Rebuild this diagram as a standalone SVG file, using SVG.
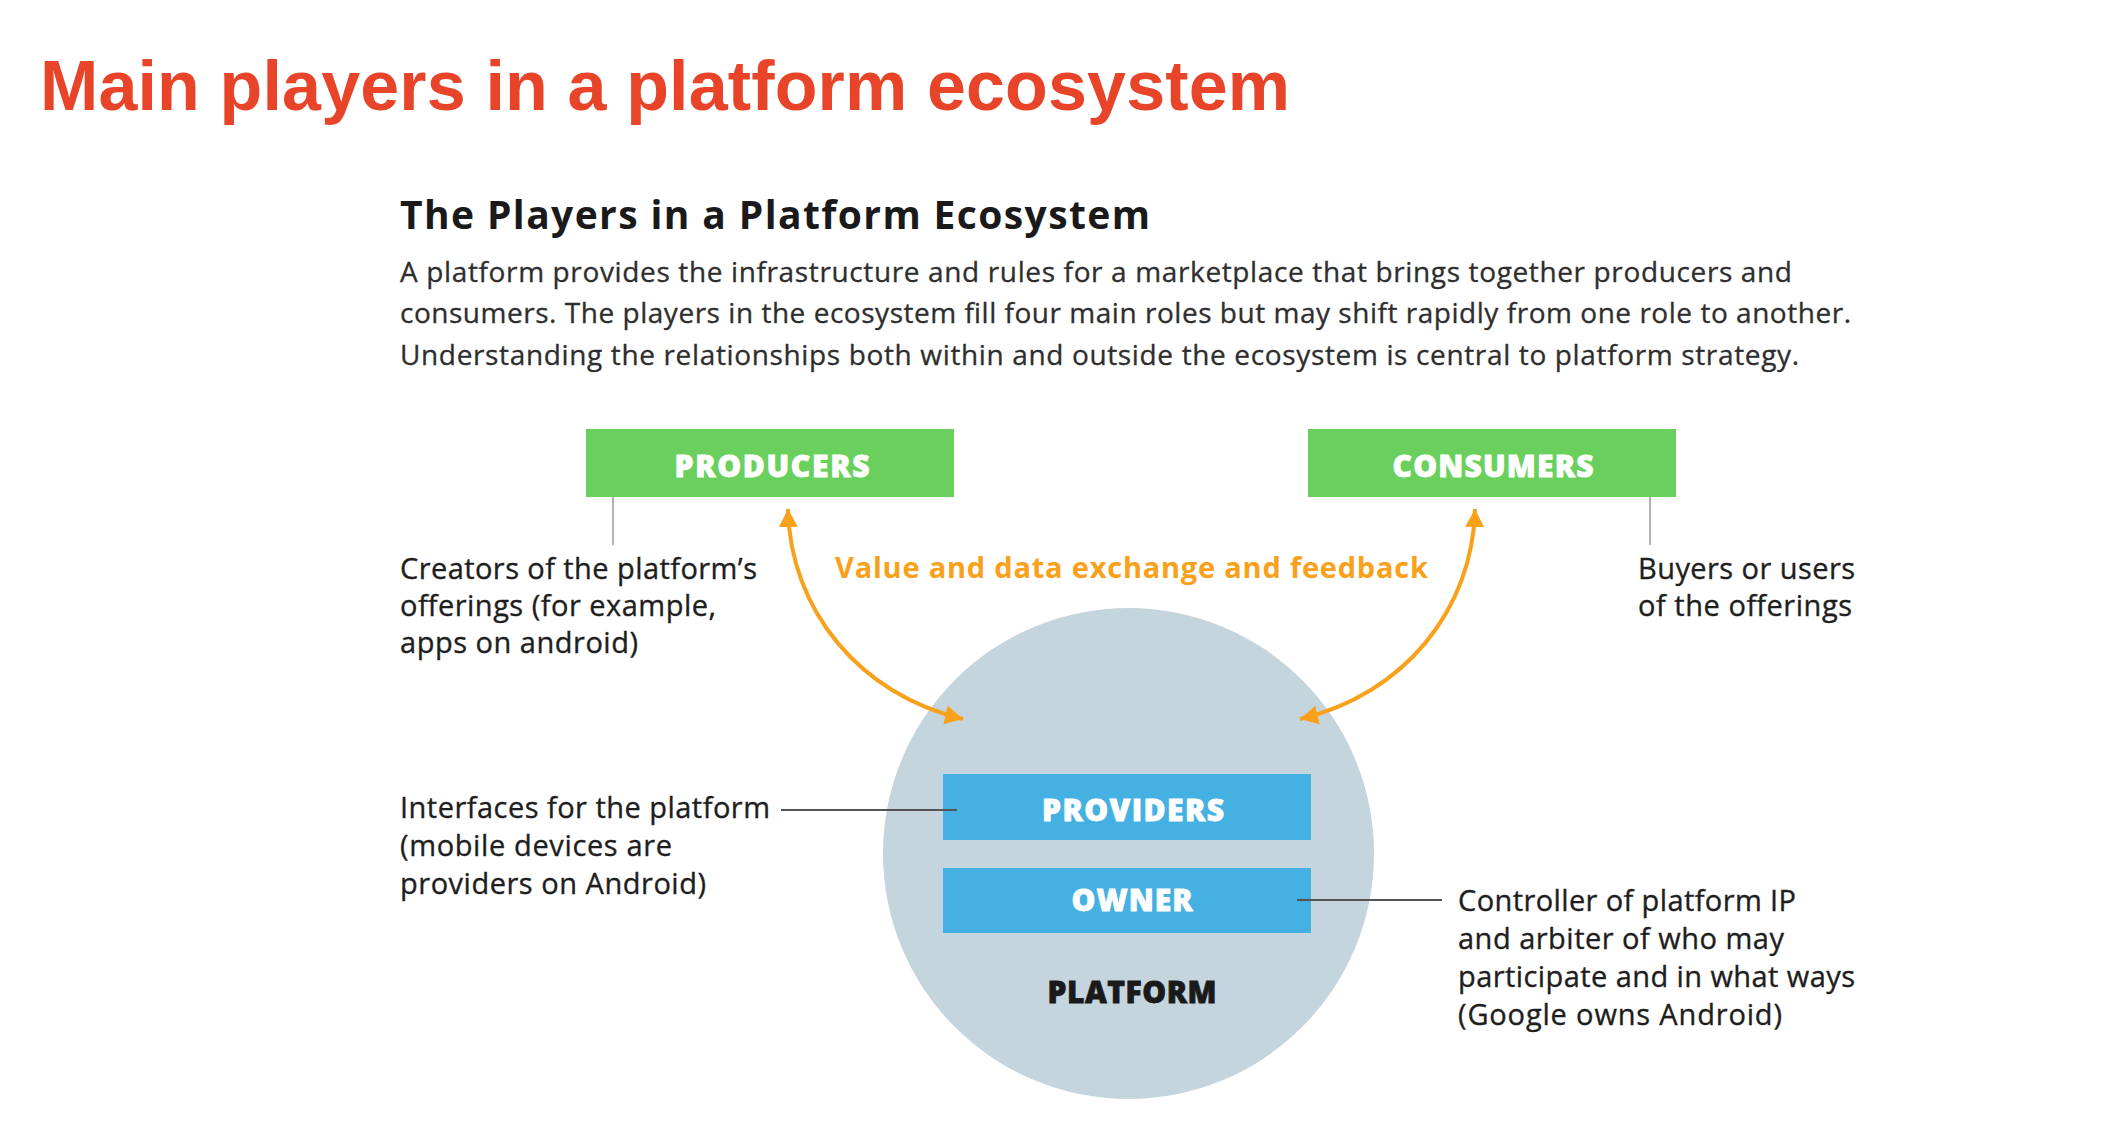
<svg xmlns="http://www.w3.org/2000/svg" width="2110" height="1133" viewBox="0 0 2110 1133">
  <style>
    .title { font-family: "Liberation Sans", Arial, sans-serif; font-weight: 700; font-size: 70px; fill: #E8442A; }
    .sub { font-family: "Open Sans", "Liberation Sans", sans-serif; font-weight: 700; font-size: 39px; fill: #1a1a1a; }
    .para { font-family: "Open Sans", "Liberation Sans", sans-serif; font-size: 28px; fill: #2e2e2e; stroke: #2e2e2e; stroke-width: 0.3; }
    .note { font-family: "Open Sans", "Liberation Sans", sans-serif; font-size: 29px; fill: #1e1e1e; stroke: #1e1e1e; stroke-width: 0.35; }
    .flow { font-family: "Open Sans", "Liberation Sans", sans-serif; font-weight: 700; font-size: 29px; fill: #F9A11B; }
    .lbl { font-family: "Open Sans", "Liberation Sans", sans-serif; font-weight: 800; font-size: 30px; fill: #ffffff; stroke: #ffffff; stroke-width: 0.8; text-anchor: middle; }
    .lbl-dark { fill: #1a1a1a; stroke: #1a1a1a; }
    .green { fill: #69D05D; }
    .blue { fill: #45B1E3; }
    .thin { stroke: #9a9a9a; stroke-width: 1.5; fill: none; }
    .lead { stroke: #555555; stroke-width: 2; fill: none; }
    .arrow { stroke: #F9A11B; stroke-width: 4; fill: none; marker-start: url(#ah); marker-end: url(#ah); }
  </style>
  <defs>
    <marker id="ah" markerUnits="userSpaceOnUse" markerWidth="20" markerHeight="20" viewBox="0 0 20 20" refX="18" refY="10" orient="auto-start-reverse">
      <path d="M0,0.5 L18,10 L0,19.5 z" fill="#F9A11B"/>
    </marker>
  </defs>
  <rect x="0" y="0" width="2110" height="1133" fill="#ffffff"/>

  <g id="heading">
    <text class="title" x="40" y="110" textLength="1250">Main players in a platform ecosystem</text>
  </g>
  <g id="subtitle">
    <text class="sub" x="400" y="229" textLength="750">The Players in a Platform Ecosystem</text>
  </g>
  <g id="description">
    <text class="para" x="400" y="282" textLength="1392">A platform provides the infrastructure and rules for a marketplace that brings together producers and</text>
    <text class="para" x="400" y="323" textLength="1451">consumers. The players in the ecosystem fill four main roles but may shift rapidly from one role to another.</text>
    <text class="para" x="400" y="365" textLength="1399">Understanding the relationships both within and outside the ecosystem is central to platform strategy.</text>
  </g>

  <g id="platform">
    <circle cx="1128.5" cy="853.5" r="245.5" fill="#C5D5DE"/>
    <text class="lbl lbl-dark" x="1132" y="1003" textLength="169">PLATFORM</text>
  </g>

  <g id="producers">
    <rect class="green" x="586" y="429" width="368" height="68"/>
    <text class="lbl" x="772" y="477" textLength="195">PRODUCERS</text>
  </g>
  <g id="consumers">
    <rect class="green" x="1308" y="429" width="368" height="68"/>
    <text class="lbl" x="1493" y="477" textLength="201">CONSUMERS</text>
  </g>
  <g id="providers">
    <rect class="blue" x="943" y="774" width="368" height="66"/>
    <text class="lbl" x="1133" y="821" textLength="182">PROVIDERS</text>
  </g>
  <g id="owner">
    <rect class="blue" x="943" y="868" width="368" height="65"/>
    <text class="lbl" x="1132" y="911" textLength="121">OWNER</text>
  </g>

  <g id="note-producers">
    <text class="note" x="400" y="579" textLength="357">Creators of the platform’s</text>
    <text class="note" x="400" y="616" textLength="316">offerings (for example,</text>
    <text class="note" x="400" y="653" textLength="238">apps on android)</text>
  </g>
  <g id="note-consumers">
    <text class="note" x="1638" y="579" textLength="217">Buyers or users</text>
    <text class="note" x="1638" y="616" textLength="214">of the offerings</text>
  </g>
  <g id="note-providers">
    <text class="note" x="400" y="818" textLength="370">Interfaces for the platform</text>
    <text class="note" x="400" y="856" textLength="272">(mobile devices are</text>
    <text class="note" x="400" y="894" textLength="306">providers on Android)</text>
  </g>
  <g id="note-owner">
    <text class="note" x="1458" y="911" textLength="338">Controller of platform IP</text>
    <text class="note" x="1458" y="949" textLength="326">and arbiter of who may</text>
    <text class="note" x="1458" y="987" textLength="397">participate and in what ways</text>
    <text class="note" x="1458" y="1025" textLength="324">(Google owns Android)</text>
  </g>
  <g id="flow-label">
    <text class="flow" x="835" y="578" textLength="593">Value and data exchange and feedback</text>
  </g>

  <g id="connectors">
    <line class="thin" x1="613" y1="497" x2="613" y2="545"/>
    <line class="thin" x1="1650" y1="497" x2="1650" y2="545"/>
    <line class="lead" x1="781" y1="810" x2="957" y2="810"/>
    <line class="lead" x1="1297" y1="900" x2="1442" y2="900"/>
    <path class="arrow" d="M788,509 C790,610 860,695 963,719"/>
    <path class="arrow" d="M1475,509 C1473,610 1403,695 1300,719"/>
  </g>
</svg>
